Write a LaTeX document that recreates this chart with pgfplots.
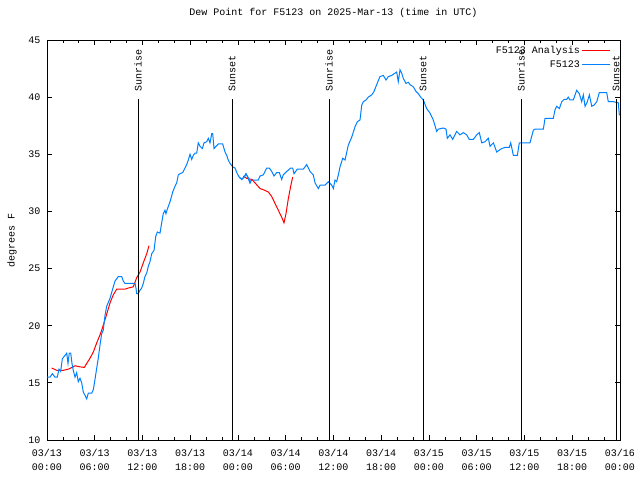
\documentclass[border=0pt]{standalone}
\usepackage{fontspec}
\setmainfont{Liberation Mono}
\usepackage{pgfplots}
\pgfplotsset{compat=1.18}
\definecolor{gpblue}{RGB}{0,128,255}
\definecolor{gpred}{RGB}{255,0,0}
\begin{document}
\begin{tikzpicture}
\begin{axis}[
  at={(0,0)}, anchor=south west,
  scale only axis, width=573pt, height=400pt,
  xmin=0, xmax=72, ymin=10, ymax=45,
  xtick={0,6,...,72}, minor x tick num=2,
  xticklabels={{03/13\\00:00},{03/13\\06:00},{03/13\\12:00},{03/13\\18:00},{03/14\\00:00},{03/14\\06:00},{03/14\\12:00},{03/14\\18:00},{03/15\\00:00},{03/15\\06:00},{03/15\\12:00},{03/15\\18:00},{03/16\\00:00}},
  xticklabel style={align=center, font=\fontsize{10}{14}\selectfont, yshift=-6pt},
  ytick={10,15,...,45},
  yticklabel style={xshift=-3pt},
  /pgf/number format/assume math mode=true,
  tick align=inside, major tick length=5pt, minor tick length=3pt,
  tick style={black, line width=0.8pt},
  axis line style={line width=0.8pt},
  ylabel={degrees F},
  ylabel style={at={(axis description cs:-0.061,0.5)}, anchor=center},
  title={Dew Point for F5123 on 2025-Mar-13 (time in UTC)},
  title style={at={(axis description cs:0.5,1)}, anchor=base, yshift=18.5pt},
  legend style={at={(axis description cs:0.986,0.993)}, anchor=north east, draw=none, fill=none, row sep=2pt, inner sep=1pt},
  legend cell align=right, legend plot pos=right,
  legend image code/.code={\draw[#1] (6pt,0pt) -- (34pt,0pt);},
  every axis plot/.append style={line width=1pt},
  clip=false,
]
\addplot[gpred, line width=1pt] coordinates {
(0.59,16.3) (1.22,16.1) (1.63,16.1) (2.05,16.1) (2.68,16.2) (3.30,16.4) (3.52,16.5) (4.15,16.4) (4.69,16.35) (4.99,16.7) (5.40,17.15) (5.82,17.7) (6.25,18.5) (6.66,19.2) (6.87,19.6) (7.41,20.8) (7.92,22.0) (8.33,22.7) (8.76,23.2) (9.80,23.2) (10.22,23.3) (10.84,23.4) (11.27,24.2) (11.69,24.7) (12.10,25.5) (12.53,26.3) (12.82,27.0)
};
\addlegendentry{F5123 Analysis}
\addplot[gpblue, line width=1pt] coordinates {
(0.0,15.5) (0.38,15.5) (0.67,15.8) (1.0,15.5) (1.29,15.5) (1.51,16.2) (1.72,16.0) (1.92,17.1) (2.26,17.4) (2.48,17.6) (2.64,16.7) (2.80,17.6) (2.98,17.6) (3.14,16.7) (3.30,16.1) (3.52,15.5) (3.73,15.9) (3.93,15.1) (4.15,15.4) (4.36,15.0) (4.56,14.2) (4.78,13.9) (4.99,13.6) (5.19,14.1) (5.62,14.1) (5.82,14.4) (6.03,15.3) (6.25,16.3) (6.45,17.2) (6.66,18.3) (6.87,19.3) (7.07,19.6) (7.29,20.9) (7.50,21.7) (7.92,22.4) (8.33,23.4) (8.54,23.9) (8.96,24.3) (9.39,24.3) (9.59,23.9) (9.80,23.7) (11.06,23.7) (11.18,23.3) (11.27,22.8) (11.47,22.8) (11.69,23.1) (11.90,23.3) (12.10,23.7) (12.31,24.3) (12.53,24.6) (12.73,25.2) (12.94,25.6) (13.16,26.3) (13.45,26.6) (13.66,27.8) (13.86,28.2) (14.20,28.1) (14.41,29.0) (14.61,29.8) (14.83,30.1) (14.95,29.8) (15.12,30.2) (15.46,30.85) (15.80,31.7) (16.08,32.2) (16.30,32.5) (16.50,33.2) (16.71,33.3) (17.05,33.4) (17.34,33.8) (17.55,34.1) (17.76,34.5) (17.97,35.0) (18.18,34.55) (18.38,34.9) (18.60,35.1) (18.81,35.1) (19.01,36.0) (19.23,35.7) (19.52,35.5) (19.73,36.0) (20.07,36.1) (20.27,36.4) (20.48,36.0) (20.70,36.8) (20.82,36.8) (20.99,35.5) (21.24,35.7) (21.53,35.9) (22.08,35.9) (22.37,35.2) (22.58,34.9) (22.78,34.5) (23.00,34.2) (23.34,33.9) (23.62,33.8) (23.91,33.3) (24.16,33.0) (24.47,32.8) (24.76,33.0) (25.01,33.3) (25.30,32.9) (25.51,32.5) (25.72,32.8) (25.92,32.75) (26.55,32.75) (26.77,33.1) (27.18,33.2) (27.61,33.8) (27.93,33.8) (28.24,33.5) (28.52,33.1) (28.86,33.4) (29.19,33.4) (29.49,32.8) (29.69,33.2) (30.12,33.5) (30.62,33.8) (30.87,33.8) (31.04,33.3) (31.45,33.7) (32.21,33.7) (32.63,34.1) (33.05,33.5) (33.46,33.2) (33.68,32.5) (34.09,32.0) (34.31,32.3) (34.93,32.3) (35.35,32.6) (35.78,32.3) (35.98,32.0) (36.19,32.75) (36.40,32.6) (36.61,33.2) (36.82,33.9) (37.16,34.65) (37.45,34.5) (37.86,35.8) (38.29,36.5) (38.70,37.4) (39.00,37.85) (39.33,38.0) (39.55,39.3) (39.75,39.6) (40.09,39.75) (40.37,40.0) (40.80,40.2) (41.09,40.5) (41.43,41.1) (41.84,41.8) (42.26,41.9) (42.60,41.5) (42.89,41.8) (43.31,41.9) (43.73,42.1) (43.94,42.2) (44.14,41.35) (44.36,42.4) (44.57,42.1) (44.77,41.65) (45.11,41.2) (45.40,41.3) (45.61,41.1) (46.03,40.9) (46.37,40.5) (46.66,40.3) (46.96,40.0) (47.29,39.75) (47.71,39.0) (48.13,38.6) (48.54,38.0) (48.97,37.0) (49.17,37.2) (49.80,37.3) (50.14,37.2) (50.30,36.4) (50.64,36.7) (50.98,36.3) (51.48,37.0) (51.90,36.7) (52.31,36.9) (52.74,36.7) (53.06,36.3) (53.57,36.3) (53.99,36.7) (54.32,36.9) (54.63,36.0) (55.04,36.1) (55.46,36.4) (55.67,35.7) (56.09,36.0) (56.51,35.2) (56.71,35.3) (57.14,35.5) (57.55,35.6) (58.09,35.6) (58.27,36.0) (58.60,34.9) (59.10,34.9) (59.35,36.0) (60.69,36.0) (61.11,37.1) (61.32,37.2) (62.37,37.2) (62.58,38.15) (63.62,38.15) (63.84,38.9) (64.05,39.2) (64.38,39.0) (64.68,39.6) (64.97,39.8) (65.30,39.8) (65.50,40.0) (65.72,39.75) (66.13,39.75) (66.56,40.6) (66.89,40.3) (67.19,39.6) (67.39,40.2) (67.61,39.2) (67.90,39.6) (68.15,40.2) (68.45,39.2) (68.74,39.3) (69.08,39.6) (69.40,40.4) (70.33,40.4) (70.53,39.6) (71.16,39.6) (71.79,39.5) (71.92,38.4)
};
\addlegendentry{F5123}
\addplot[gpred, line width=1pt, forget plot] coordinates {
(24.67,33.1) (25.09,32.9) (25.72,32.8) (26.14,32.5) (26.77,32.0) (27.18,31.9) (27.81,31.7) (28.24,31.3) (28.65,30.7) (29.07,30.1) (29.49,29.5) (29.78,29.0) (30.03,29.8) (30.32,31.1) (30.62,32.2) (30.87,33.0)
};
\addplot[gpblue, line width=1pt, forget plot] coordinates {(24.16,33.0) (24.47,32.8) (24.76,33.0) (25.01,33.3) (25.30,32.9) (25.51,32.5) (25.72,32.8)};
\addplot[black, line width=0.8pt, forget plot] coordinates {(11.43,10) (11.43,39.8)};
\addplot[black, line width=0.8pt, forget plot] coordinates {(23.25,10) (23.25,39.8)};
\addplot[black, line width=0.8pt, forget plot] coordinates {(35.44,10) (35.44,39.8)};
\addplot[black, line width=0.8pt, forget plot] coordinates {(47.25,10) (47.25,39.8)};
\addplot[black, line width=0.8pt, forget plot] coordinates {(59.56,10) (59.56,39.8)};
\addplot[black, line width=0.8pt, forget plot] coordinates {(71.50,10) (71.50,39.8)};
\node[rotate=90, anchor=west, inner sep=0pt] at (axis cs:11.43,40.45) {Sunrise};
\node[rotate=90, anchor=west, inner sep=0pt] at (axis cs:23.25,40.45) {Sunset};
\node[rotate=90, anchor=west, inner sep=0pt] at (axis cs:35.44,40.45) {Sunrise};
\node[rotate=90, anchor=west, inner sep=0pt] at (axis cs:47.25,40.45) {Sunset};
\node[rotate=90, anchor=west, inner sep=0pt] at (axis cs:59.56,40.45) {Sunrise};
\node[rotate=90, anchor=west, inner sep=0pt] at (axis cs:71.50,40.45) {Sunset};
\end{axis}
\pgfresetboundingbox
\path (-47pt,-40pt) rectangle (593pt,440pt);
\end{tikzpicture}
\end{document}
